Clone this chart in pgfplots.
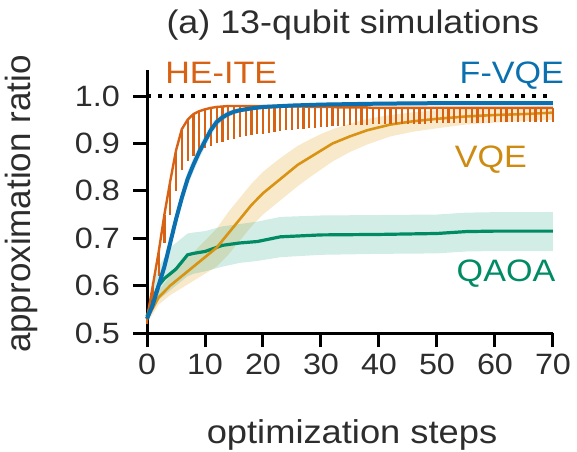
\documentclass[border=0pt]{standalone}
\usepackage{fontspec}
\setmainfont{Liberation Sans}[FakeStretch=1.1]
\newfontfamily\plainsans{Liberation Sans}
\usepackage{pgfplots}
\usepackage{pgfplotstable}
\pgfplotsset{compat=1.18}
\usepgfplotslibrary{fillbetween}

\definecolor{cHE}{RGB}{216,98,20}
\definecolor{cFV}{RGB}{10,112,175}
\definecolor{cVQ}{RGB}{228,155,20}
\definecolor{cQA}{RGB}{0,155,112}
\definecolor{txt}{RGB}{45,45,45}

\pgfplotstableread{
k h l
0 0.530 0.520
1 0.600 0.550
2 0.670 0.620
3 0.750 0.690
4 0.820 0.750
5 0.885 0.800
6 0.930 0.845
7 0.950 0.862
8 0.962 0.874
9 0.968 0.883
10 0.972 0.890
11 0.975 0.895
12 0.977 0.900
13 0.978 0.904
14 0.979 0.907
15 0.979 0.910
16 0.979 0.913
17 0.979 0.915
18 0.979 0.917
19 0.979 0.919
20 0.979 0.921
21 0.979 0.923
22 0.979 0.925
23 0.979 0.926
24 0.978 0.928
25 0.978 0.929
26 0.978 0.930
27 0.978 0.931
28 0.977 0.932
29 0.977 0.933
30 0.977 0.934
31 0.977 0.935
32 0.977 0.936
33 0.976 0.937
34 0.976 0.937
35 0.976 0.938
36 0.976 0.938
37 0.976 0.939
38 0.976 0.939
39 0.975 0.940
40 0.975 0.940
41 0.975 0.940
42 0.975 0.941
43 0.975 0.941
44 0.975 0.941
45 0.975 0.942
46 0.975 0.942
47 0.975 0.942
48 0.975 0.942
49 0.975 0.943
50 0.975 0.943
51 0.975 0.943
52 0.975 0.943
53 0.975 0.943
54 0.975 0.944
55 0.975 0.944
56 0.975 0.944
57 0.975 0.944
58 0.975 0.944
59 0.975 0.944
60 0.975 0.945
61 0.975 0.945
62 0.975 0.945
63 0.975 0.945
64 0.975 0.945
65 0.975 0.945
66 0.975 0.945
67 0.975 0.945
68 0.975 0.945
69 0.975 0.945
70 0.975 0.945
}\heite

\pgfplotstableread{
k m lo hi
0 0.530 0.525 0.535
1 0.560 0.548 0.572
2 0.600 0.585 0.615
3 0.640 0.625 0.655
4 0.690 0.675 0.705
5 0.740 0.725 0.755
6 0.785 0.770 0.800
7 0.825 0.810 0.840
8 0.855 0.840 0.870
9 0.882 0.868 0.896
10 0.905 0.892 0.918
11 0.928 0.916 0.940
12 0.945 0.935 0.955
13 0.955 0.947 0.963
14 0.962 0.955 0.969
15 0.967 0.961 0.973
16 0.970 0.965 0.975
18 0.974 0.970 0.978
20 0.977 0.973 0.981
25 0.980 0.976 0.984
30 0.982 0.978 0.986
40 0.984 0.980 0.988
50 0.985 0.981 0.989
60 0.985 0.981 0.989
70 0.985 0.981 0.989
}\fvqe

\pgfplotstableread{
k m lo hi
0 0.530 0.520 0.540
2 0.575 0.560 0.590
4 0.600 0.580 0.620
6 0.620 0.595 0.645
8 0.640 0.610 0.670
10 0.660 0.625 0.695
12 0.680 0.640 0.720
14 0.710 0.665 0.755
16 0.740 0.695 0.785
18 0.770 0.725 0.815
20 0.795 0.750 0.840
22 0.815 0.770 0.860
24 0.835 0.790 0.878
26 0.855 0.810 0.895
28 0.870 0.828 0.908
30 0.885 0.845 0.920
32 0.900 0.862 0.930
35 0.915 0.882 0.942
38 0.928 0.898 0.952
42 0.940 0.915 0.960
46 0.947 0.925 0.966
50 0.952 0.932 0.970
55 0.957 0.940 0.973
60 0.960 0.944 0.975
65 0.962 0.947 0.977
70 0.965 0.950 0.978
}\vqe

\pgfplotstableread{
k m lo hi
0 0.535 0.525 0.545
1 0.570 0.550 0.600
2 0.600 0.570 0.640
3 0.615 0.580 0.660
4 0.625 0.590 0.680
5 0.635 0.600 0.690
6 0.650 0.610 0.700
7 0.665 0.620 0.710
8 0.668 0.625 0.712
10 0.672 0.630 0.715
13 0.685 0.640 0.725
16 0.690 0.648 0.730
19 0.693 0.652 0.735
23 0.703 0.660 0.745
30 0.707 0.665 0.748
40 0.708 0.667 0.749
50 0.710 0.668 0.750
55 0.714 0.672 0.754
60 0.715 0.673 0.755
70 0.715 0.673 0.755
}\qaoa

\begin{document}
\begin{tikzpicture}
\begin{axis}[
  at={(0,0)}, anchor=south west,
  scale only axis,
  width=203pt, height=131.5pt,
  xmin=0, xmax=70, ymin=0.5, ymax=1.055,
  axis lines=left,
  axis line style={-, line width=1.5pt, black},
  xtick={0,10,...,70},
  ytick={0.5,0.6,...,1.0},
  yticklabels={0.5,0.6,0.7,0.8,0.9,1.0},
  tick align=outside,
  major tick length=7pt,
  tick style={line width=1.5pt, black},
  /pgf/number format/assume math mode=true,
  tick label style={font=\fontsize{14.7}{17}\selectfont, text=txt},
  yticklabel style={xshift=-3pt},
  clip=false,
]
% bands
\addplot[draw=none, name path=vlo, forget plot] table[x=k,y=lo]{\vqe};
\addplot[draw=none, name path=vhi, forget plot] table[x=k,y=hi]{\vqe};
\addplot[cVQ, fill opacity=0.22, draw=none] fill between[of=vlo and vhi];
\addplot[draw=none, name path=qlo, forget plot] table[x=k,y=lo]{\qaoa};
\addplot[draw=none, name path=qhi, forget plot] table[x=k,y=hi]{\qaoa};
\addplot[cQA, fill opacity=0.18, draw=none] fill between[of=qlo and qhi];
\addplot[draw=none, name path=flo, forget plot] table[x=k,y=lo]{\fvqe};
\addplot[draw=none, name path=fhi, forget plot] table[x=k,y=hi]{\fvqe};
\addplot[cFV!60, fill opacity=0.25, draw=none] fill between[of=flo and fhi];
% lines
\addplot[cQA!90!black, line width=1.6pt, no marks] table[x=k,y=m]{\qaoa};
\addplot[cVQ!95!black, line width=1.3pt, no marks] table[x=k,y=m]{\vqe};
\addplot[cHE, line width=1.2pt, no marks,
  error bars/.cd, y dir=minus, y explicit,
  error bar style={line width=1.1pt, cHE}, error mark=none]
  table[x=k, y=h, y error minus expr=\thisrow{h}-\thisrow{l}]{\heite};
\addplot[cFV, line width=2pt, no marks] table[x=k,y=m]{\fvqe};
\addplot[black, line width=2pt, dash pattern=on 2pt off 3.5pt, no marks] coordinates {(0,1) (70,1)};
% labels
\node[anchor=base, text=cHE, font=\fontsize{15.5}{18}\selectfont] at (axis cs:12.8,1.027) {HE-ITE};
\node[anchor=base, text=cFV, font=\fontsize{15.5}{18}\selectfont] at (axis cs:62.9,1.027) {F-VQE};
\node[anchor=base, text=cVQ!90!black, font=\fontsize{15.5}{18}\selectfont] at (axis cs:59.3,0.85) {VQE};
\node[anchor=base, text=cQA!90!black, font=\fontsize{15.5}{18}\selectfont] at (axis cs:61.9,0.608) {QAOA};
\node[anchor=base, text=txt, font=\fontsize{16.3}{19}\selectfont] at (axis cs:35.5,1.133) {(a) 13-qubit simulations};
\node[anchor=base, text=txt, font=\fontsize{16.5}{19}\selectfont] at (axis description cs:0.505,0) [yshift=-55pt] {optimization steps};
\node[anchor=base, text=txt, font=\plainsans\fontsize{17.5}{20}\selectfont, xshift=-58pt, rotate=90] at (axis description cs:0,0.49) {approximation ratio};
\end{axis}
\pgfresetboundingbox
\path[use as bounding box] (-73.5pt,-59pt) rectangle (215pt,166.5pt);
\end{tikzpicture}
\end{document}
